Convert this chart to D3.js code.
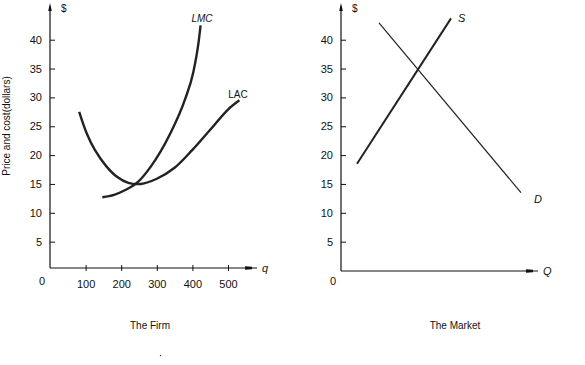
<!DOCTYPE html>
<html><head><meta charset="utf-8">
<script src="https://cdn.jsdelivr.net/npm/d3@7/dist/d3.min.js"></script>
<style>body{margin:0;background:#fff}svg{display:block}text{font-family:"Liberation Sans",Arial,sans-serif;fill:#111}</style>
</head><body><svg id="c" width="585" height="365"></svg>
<script>
const priceTicks = [5,10,15,20,25,30,35,40];
const qTicks = [100,200,300,400,500];
const lmcQ = [147,180,210,248,283,335,379,403,417,423];
const lmcP = [12.7,13.1,13.9,15.4,18.0,23.4,29.6,34.5,39.4,42.5];
const lacQ = [82,103,126,159,187,220,255,300,350,400,450,500,532];
const lacP = [27.5,23.8,20.9,18.0,16.3,15.2,15.0,15.9,17.8,20.9,24.4,27.9,29.5];
const supplyQ = [8,55];
const supplyP = [18.5,43.7];
const demandQ = [19,90];
const demandP = [42.9,13.5];

const svg = d3.select("#c");
const y = d3.scaleLinear().domain([0,45]).range([270.5,270.5-5.77*45]);
const xL = d3.scaleLinear().domain([0,600]).range([50,50+0.356*600]);
const xR = d3.scaleLinear().domain([0,100]).range([341,541]);

function panel(x0, axisY, xEnd, xLabel) {
  const g = svg.append("g");
  g.append("line").attr("x1",x0).attr("x2",x0).attr("y1",axisY).attr("y2",6).attr("stroke","#111").attr("stroke-width",1.2);
  g.append("path").attr("d",`M${x0-1.8},11 L${x0},3 L${x0+1.8},11 Z`).attr("fill","#111");
  g.append("line").attr("x1",x0).attr("x2",xEnd).attr("y1",axisY).attr("y2",axisY).attr("stroke","#111").attr("stroke-width",1.2);
  g.append("path").attr("d",`M${xEnd-12},${axisY-1.8} L${xEnd-5},${axisY-1.2} L${xEnd-5},${axisY+1.2} L${xEnd-12},${axisY+1.8} Z`).attr("fill","#111");
  g.append("text").attr("x",xEnd+5).attr("y",axisY+4).attr("font-size",11).attr("font-style","italic").text(xLabel);
  const ay = g.append("g").attr("transform",`translate(${x0},0)`)
    .call(d3.axisLeft(y).tickValues(priceTicks).tickSize(-5).tickPadding(8).tickFormat(d3.format("d")));
  ay.select(".domain").remove();
  ay.selectAll("line").attr("stroke","#111").attr("stroke-width",1);
  ay.selectAll("text").attr("font-size",11).attr("font-family","Liberation Sans, Arial, sans-serif").attr("fill","#111");
  g.append("text").attr("x",x0-11).attr("y",285).attr("font-size",11).text("0");
  g.append("text").attr("x",x0+11).attr("y",12).attr("font-size",10).text("$");
  return g;
}

const gL = panel(50, 268, 257, "q");
const gR = panel(341, 271, 538, "Q");

const ax = gL.append("g").attr("transform","translate(0,265)")
  .call(d3.axisBottom(xL).tickValues(qTicks).tickSize(6).tickPadding(9).tickFormat(d3.format("d")));
ax.select(".domain").remove();
ax.selectAll("line").attr("stroke","#111").attr("stroke-width",1);
ax.selectAll("text").attr("font-size",11).attr("font-family","Liberation Sans, Arial, sans-serif").attr("fill","#111");

const lineMC = d3.line().x(d=>xL(d[0])).y(d=>y(d[1])).curve(d3.curveMonotoneX);
const lineL = d3.line().x(d=>xL(d[0])).y(d=>y(d[1])).curve(d3.curveCatmullRom.alpha(0.5));
const lineR = d3.line().x(d=>xR(d[0])).y(d=>y(d[1]));

gL.append("path").attr("d",lineMC(d3.zip(lmcQ,lmcP))).attr("fill","none").attr("stroke","#222").attr("stroke-width",2.4);
gL.append("path").attr("d",lineL(d3.zip(lacQ,lacP))).attr("fill","none").attr("stroke","#222").attr("stroke-width",2.4);
gR.append("path").attr("d",lineR(d3.zip(supplyQ,supplyP))).attr("fill","none").attr("stroke","#222").attr("stroke-width",2);
gR.append("path").attr("d",lineR(d3.zip(demandQ,demandP))).attr("fill","none").attr("stroke","#222").attr("stroke-width",1.2);

svg.append("text").attr("x",202).attr("y",22).attr("text-anchor","middle").attr("font-size",10).attr("font-style","italic").text("LMC");
svg.append("text").attr("x",238).attr("y",98).attr("text-anchor","middle").attr("font-size",10).text("LAC");
svg.append("text").attr("x",458).attr("y",22).attr("font-size",11).attr("font-style","italic").text("S");
svg.append("text").attr("x",534).attr("y",203).attr("font-size",11).attr("font-style","italic").text("D");

svg.append("text").attr("transform","translate(10,126) rotate(-90)").attr("text-anchor","middle").attr("font-size",10).text("Price and cost(dollars)");
svg.append("text").attr("x",150).attr("y",329).attr("text-anchor","middle").attr("font-size",10).text("The Firm");
svg.append("text").attr("x",455).attr("y",329).attr("text-anchor","middle").attr("font-size",10).text("The Market");
svg.append("circle").attr("cx",160.5).attr("cy",355.5).attr("r",0.7).attr("fill","#333");
</script></body></html>
